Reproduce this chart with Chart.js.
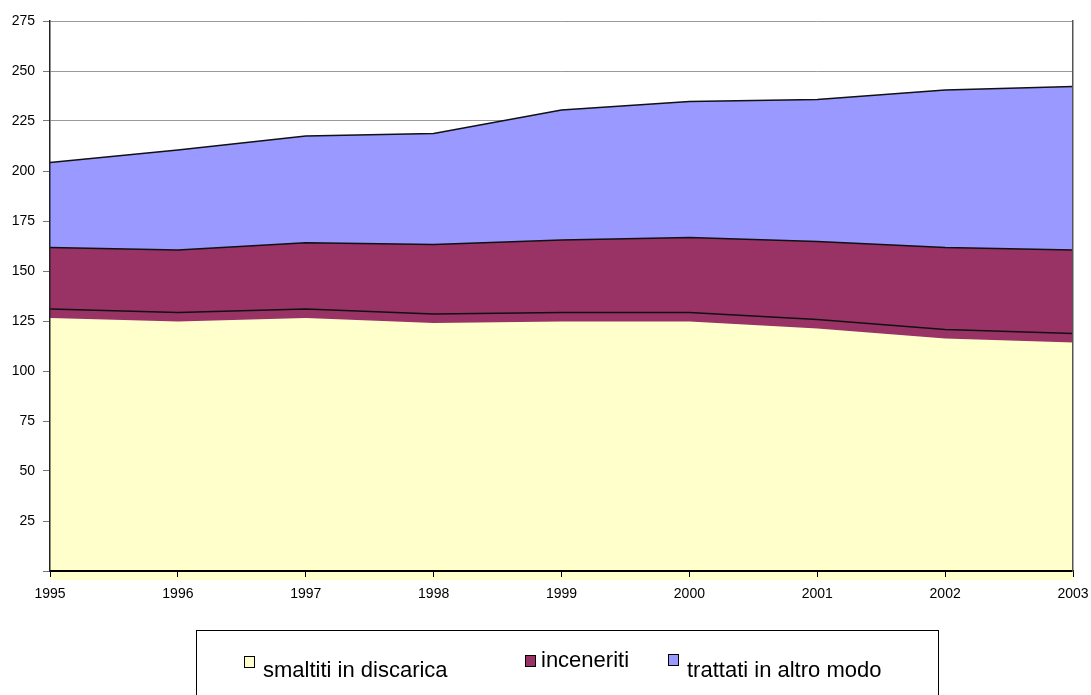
<!DOCTYPE html>
<html>
<head>
<meta charset="utf-8">
<script src="https://cdn.jsdelivr.net/npm/chart.js@4.4.1/dist/chart.umd.min.js"></script>
<style>
  html, body { margin: 0; padding: 0; background: #fff; overflow: hidden; }
  #wrap { position: relative; width: 1091px; height: 695px; }
  #legend { position: absolute; left: 196px; top: 630px; width: 743px; height: 80px;
            border: 1px solid #000; box-sizing: border-box; }
  .sw { position: absolute; width: 9px; height: 10px; border: 1px solid #000; }
  .lt { position: absolute; font-family: "Liberation Sans", Arial, sans-serif; font-size: 22px;
        line-height: 24px; color: #000; white-space: nowrap; }
</style>
</head>
<body>
<div id="wrap">
  <canvas id="c" width="1091" height="695"></canvas>
  <div id="legend"></div>
</div>
<script>
const categories = ['1995', '1996', '1997', '1998', '1999', '2000', '2001', '2002', '2003'];
const seriesNames = ['smaltiti in discarica', 'inceneriti', 'trattati in altro modo'];
const smaltiti   = [131.0, 129.2, 131.0, 128.5, 129.3, 129.2, 125.8, 120.8, 118.8];
const inceneriti = [30.7, 31.3, 33.1, 34.7, 36.2, 37.5, 38.9, 41.0, 41.7];
const trattati   = [42.6, 50.0, 53.4, 55.6, 65.0, 68.0, 71.0, 78.7, 81.7];
const yTicks = [25, 50, 75, 100, 125, 150, 175, 200, 225, 250, 275];
const colors = ['#FFFFCC', '#993366', '#9999FF'];

// Excel-like depth offset of the bottom area's fill (its outline stays in place)
const shiftFill = {
  id: 'shiftFill',
  afterDatasetDraw(chart, args) {
    if (args.index === 1) { chart.ctx.save(); chart.ctx.translate(0, 9); }
  },
  beforeDatasetDraw(chart, args) {
    if (args.index === 0) { chart.ctx.restore(); }
  }
};

const mk = (label, data, color) => ({
  label, data,
  backgroundColor: color,
  borderColor: '#111',
  borderWidth: 1.5,
  pointRadius: 0,
  pointHoverRadius: 0,
  tension: 0,
  fill: 'origin'
});

new Chart(document.getElementById('c'), {
  type: 'line',
  data: {
    labels: categories,
    datasets: [
      mk(seriesNames[0], smaltiti, colors[0]),
      mk(seriesNames[1], inceneriti, colors[1]),
      mk(seriesNames[2], trattati, colors[2])
    ]
  },
  options: {
    responsive: false,
    animation: false,
    events: [],
    layout: { padding: { top: 21, left: 0, right: 0, bottom: 0 } },
    plugins: { legend: { display: false }, tooltip: { enabled: false } },
    scales: {
      x: {
        type: 'category',
        offset: false,
        grid: { drawOnChartArea: false, tickLength: 6, tickColor: '#000', z: 1 },
        border: { color: '#000', width: 2, z: 1 },
        ticks: { color: '#000', padding: 9, maxRotation: 0, autoSkip: false,
                 font: { family: '"Liberation Sans Narrow", "Liberation Sans", Arial, sans-serif', size: 14 } },
        afterFit(s) { s.height = 124; s.paddingLeft = 0; s.paddingRight = 0; }
      },
      y: {
        stacked: true,
        min: 0, max: 275,
        afterBuildTicks(s) { s.ticks = [0].concat(yTicks).map(v => ({ value: v })); },
        grid: { color: '#999', tickColor: '#777', tickLength: 7, lineWidth: 1 },
        border: { color: '#222', width: 1.5, z: 1 },
        ticks: { color: '#000', padding: 8,
                 callback: v => (v === 0 ? '' : String(v)),
                 font: { family: '"Liberation Sans", Arial, sans-serif', size: 14 } },
        afterFit(s) { s.width = 50; }
      },
      y2: {
        position: 'right',
        min: 0, max: 275,
        grid: { drawOnChartArea: false, drawTicks: false },
        border: { color: '#555', width: 1.5, z: 1 },
        ticks: { display: false },
        afterFit(s) { s.width = 18; }
      }
    }
  },
  plugins: [shiftFill]
});

// HTML legend built from the series names/colours
const legendPos = [
  { sx: 243, sy: 655, tx: 262, ty: 657 },
  { sx: 524, sy: 654, tx: 540, ty: 647 },
  { sx: 667, sy: 653, tx: 686, ty: 657 }
];
const lg = document.getElementById('legend');
seriesNames.forEach((name, i) => {
  const p = legendPos[i];
  const sw = document.createElement('div');
  sw.className = 'sw';
  sw.style.left = (p.sx - 196) + 'px';
  sw.style.top = (p.sy - 630) + 'px';
  sw.style.background = colors[i];
  lg.appendChild(sw);
  const t = document.createElement('div');
  t.className = 'lt';
  t.style.left = (p.tx - 196) + 'px';
  t.style.top = (p.ty - 630) + 'px';
  t.textContent = name;
  lg.appendChild(t);
});
</script>
</body>
</html>
